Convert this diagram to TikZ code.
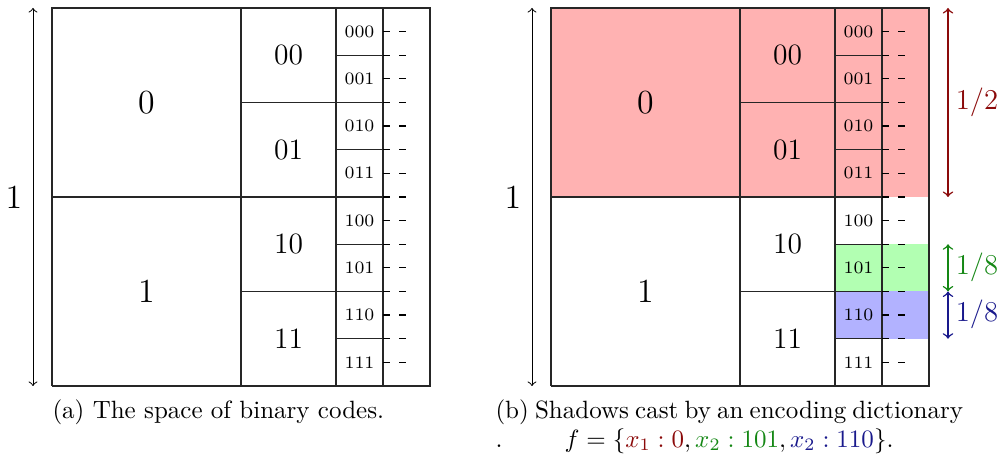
\documentclass[tikz,border=0pt]{standalone}
\usepackage{xcolor}
\definecolor{cred}{RGB}{139,10,10}
\definecolor{cgreen}{RGB}{20,135,20}
\definecolor{cblue}{RGB}{25,25,140}
\begin{document}
\begin{tikzpicture}[x=0.4pt,y=-0.4pt,
  gridline/.style={line width=0.5pt,black!85},
  edgefill/.style={fill=black!85},
  tickline/.style={line width=0.5pt,black,dash pattern=on 2.6pt off 3.8pt},
  lab1/.style={inner sep=0pt,font=\fontsize{13.5}{16}\selectfont},
  lab2/.style={inner sep=0pt,font=\fontsize{11.8}{14}\selectfont},
  lab3/.style={inner sep=0pt,font=\fontsize{7}{8}\selectfont},
  dimlab/.style={inner sep=0pt,font=\fontsize{11.5}{14}\selectfont},
  caplab/.style={inner sep=0pt,anchor=base west,font=\fontsize{10}{12}\selectfont},
  measarrow/.style={<->,line width=0.4pt},
  colarrow/.style={<->,line width=0.6pt}]
\useasboundingbox (0,0) rectangle (1002,459);
% fills of panel (b)
\fill[red!30] (551,8) -- (929,8) -- (929,197) -- (551,197) -- cycle;
\fill[green!30] (835,244.25) -- (929,244.25) -- (929,291.5) -- (835,291.5) -- cycle;
\fill[blue!30] (835,291.5) -- (929,291.5) -- (929,338.75) -- (835,338.75) -- cycle;
\newcommand\mypanel[2]{%
  \foreach \x in {52,241,336,383} \draw[gridline] ({#2+\x},8) -- ({#2+\x},386);
  \fill[edgefill] ({#2+429.4},7.4) -- ({#2+430.6},7.4) -- ({#2+430.6},386.6) -- ({#2+429.4},386.6) -- cycle;
  \fill[edgefill] ({#2+51.4},7.4) -- ({#2+430.6},7.4) -- ({#2+430.6},8.6) -- ({#2+51.4},8.6) -- cycle;
  \draw[gridline] ({#2+52},386) -- ({#2+430},386);
  \draw[gridline] ({#2+52},197) -- ({#2+383},197);
  \foreach \y in {102.5,291.5} \draw[gridline] ({#2+241},\y) -- ({#2+383},\y);
  \foreach \y in {55.25,149.75,244.25,338.75} \draw[gridline] ({#2+336},\y) -- ({#2+383},\y);
  \foreach \k in {1,...,15} \draw[tickline] ({#2+383},{8+23.625*\k}) -- ({#2+406.5},{8+23.625*\k});
  \node[lab1] (#1b0) at ({#2+146.5},102.5) {0};
  \node[lab1] (#1b1) at ({#2+146.5},291.5) {1};
  \foreach \t [count=\i from 0] in {00,01,10,11}
    \node[lab2] (#1c\t) at ({#2+288.5},{55.25+94.5*\i}) {\t};
  \foreach \t [count=\i from 0] in {000,001,010,011,100,101,110,111}
    \node[lab3] (#1d\t) at ({#2+359.5},{31.6+47.25*\i}) {\t};
  \coordinate (#1top) at ({#2+33},8);
  \coordinate (#1bot) at ({#2+33},386);
  \draw[measarrow] (#1top) -- (#1bot);
  \node[lab1] (#1one) at ({#2+14},197) {1};
}
\mypanel{a}{0}
\mypanel{b}{499}
% measures of panel (b)
\coordinate (rt) at (948,8);
\coordinate (rb) at (948,197);
\coordinate (gt) at (948,244.25);
\coordinate (gb) at (948,291.5);
\coordinate (bt) at (948,291.5);
\coordinate (bb) at (948,338.75);
\draw[colarrow,cred] (rt) -- (rb);
\draw[colarrow,cgreen] (gt) -- (gb);
\draw[colarrow,cblue] (bt) -- (bb);
\node[dimlab,text=cred] (half) at (977,102.5) {1/2};
\node[dimlab,text=cgreen] (eg) at (977,267.5) {1/8};
\node[dimlab,text=cblue] (eb) at (977,314.5) {1/8};
% captions
\node[caplab] (capa) at (52,419) {(a) The space of binary codes.};
\node[caplab] (capb) at (495,419) {\hbox to 187pt{(b) Shadows cast by an encoding dictionary}};
\node[caplab] (dot) at (495,447) {.};
\node[inner sep=0pt,anchor=base,font=\fontsize{10}{12}\selectfont] (formula) at (729,447)
  {$f=\{{\color{cred}x_1:0},{\color{cgreen}x_2:101},{\color{cblue}x_2:110}\}$.};
\end{tikzpicture}
\end{document}
